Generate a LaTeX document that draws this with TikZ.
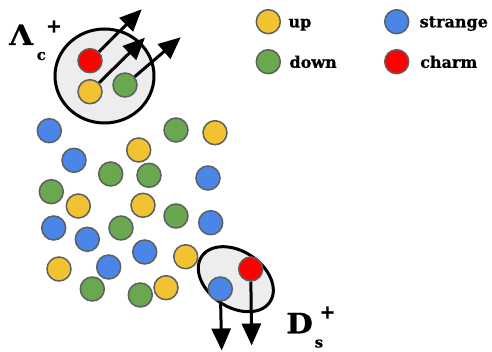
\documentclass[tikz,border=0pt]{standalone}
\usepackage{fontspec}
\setmainfont{DejaVu Serif}[BoldFeatures={FakeBold=0.8}]
\usetikzlibrary{arrows.meta}

\definecolor{qup}{HTML}{F1C232}
\definecolor{qdown}{HTML}{6AA84F}
\definecolor{qstrange}{HTML}{4A86E8}
\definecolor{qcharm}{HTML}{FF0000}
\definecolor{qedge}{HTML}{5F5F5F}
\definecolor{hadronfill}{HTML}{EDEDED}

\tikzset{
  quark/.style={circle, minimum size=24pt, inner sep=0pt, draw=qedge, line width=1.5pt},
  up/.style={quark, fill=qup},
  down/.style={quark, fill=qdown},
  strange/.style={quark, fill=qstrange},
  charm/.style={quark, fill=qcharm},
  hadron/.style={draw=black, line width=3pt, fill=hadronfill},
  flight/.style={line width=3pt, -{Triangle[length=22pt,width=19pt]}},
  legendtext/.style={anchor=base west, font=\fontsize{16}{18}\selectfont\bfseries, inner sep=0pt},
  bigsym/.style={font=\fontsize{28}{30}\selectfont\bfseries, inner sep=0pt, xscale=1.1},
  subsym/.style={font=\fontsize{15}{17}\selectfont\bfseries, inner sep=0pt},
  chargesym/.style={font=\fontsize{19}{21}\selectfont\bfseries, inner sep=0pt},
}

\begin{document}
\begin{tikzpicture}[x=1pt, y=-1pt]
\useasboundingbox (0,0) rectangle (492,352);

% Lambda_c^+ hadron
\draw[hadron] (104.5,76) ellipse [x radius=49.5, y radius=47];
\node[charm] (lc) at (90,60.7) {};
\node[up]    (lu) at (90,91.7) {};
\node[down]  (ld) at (125,85) {};
\coordinate (lct) at (141.7,9.3);
\coordinate (lut) at (145,37.7);
\coordinate (ldt) at (180.7,37.3);
\draw[flight] (lc) -- (lct);
\draw[flight] (lu) -- (lut);
\draw[flight] (ld) -- (ldt);
\node[bigsym, anchor=base west] (lam) at (9,45) {Λ};
\node[subsym, anchor=base west] (lamc) at (36.5,60) {c};
\node[chargesym] (lamp) at (54,26.5) {+};

% D_s^+ hadron
\draw[hadron, rotate around={-33.5:(235.8,279.2)}] (235.8,279.2) ellipse [x radius=41, y radius=28];
\node[charm]   (dc) at (250.7,269) {};
\node[strange] (ds) at (220.3,289) {};
\coordinate (dct) at (251.7,345.5);
\coordinate (dst) at (221.7,350.5);
\draw[flight] (dc) -- (dct);
\draw[flight] (ds) -- (dst);
\node[bigsym, anchor=base west] (dd) at (286,333.3) {D};
\node[subsym, anchor=base west] (dss) at (314.5,347.5) {s};
\node[chargesym] (dsp) at (327.5,312.5) {+};

% Free quarks
\node[strange] (q1)  at (49.3,130.7) {};
\node[down]    (q2)  at (176,130) {};
\node[up]      (q3)  at (215,132.7) {};
\node[up]      (q4)  at (138.7,150) {};
\node[strange] (q5)  at (74,160.3) {};
\node[down]    (q6)  at (110.7,174) {};
\node[down]    (q7)  at (149,175.3) {};
\node[strange] (q8)  at (208,178) {};
\node[down]    (q9)  at (51.3,191.7) {};
\node[up]      (q10) at (78.3,206) {};
\node[up]      (q11) at (143,205.3) {};
\node[down]    (q12) at (176,216) {};
\node[strange] (q13) at (210.7,222.7) {};
\node[strange] (q14) at (53.7,228) {};
\node[down]    (q15) at (121,228) {};
\node[strange] (q16) at (87.3,239.3) {};
\node[strange] (q17) at (144.7,252) {};
\node[up]      (q18) at (185.7,256.7) {};
\node[up]      (q19) at (59,269) {};
\node[strange] (q20) at (108.7,267) {};
\node[down]    (q21) at (92.3,289) {};
\node[down]    (q22) at (140.3,295) {};
\node[up]      (q23) at (166,287.7) {};

% Legend
\node[up]      (kup) at (268.3,21.7) {};
\node[down]    (kdn) at (268.3,61.7) {};
\node[strange] (kst) at (396.7,21.7) {};
\node[charm]   (kch) at (396.7,61.7) {};
\node[legendtext] (tup) at (288.3,27.3) {up};
\node[legendtext] (tdn) at (289.3,67.8) {down};
\node[legendtext] (tst) at (419.5,27.3) {strange};
\node[legendtext] (tch) at (420,67.8) {charm};
\end{tikzpicture}
\end{document}
